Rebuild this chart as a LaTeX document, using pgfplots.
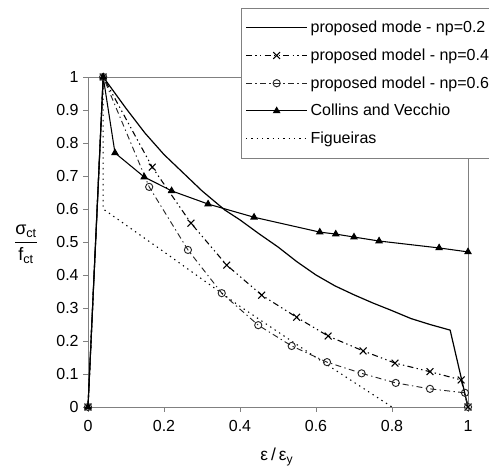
\documentclass[border=0pt]{standalone}
\usepackage{amsmath}
\usepackage{fontspec}
\setmainfont{Liberation Sans}
\usepackage{pgfplots}
\pgfplotsset{compat=1.18}

\begin{document}
\begin{tikzpicture}
\begin{axis}[
  scale only axis,
  width=285pt, height=247.5pt,
  xmin=0, xmax=1, ymin=0, ymax=1,
  xtick={0,0.2,0.4,0.6,0.8,1},
  ytick={0,0.1,0.2,0.3,0.4,0.5,0.6,0.7,0.8,0.9,1},
  xtick pos=bottom, ytick pos=left,
  tick align=outside,
  major tick length=3.5pt,
  axis line style={gray, line width=0.6pt},
  tick style={gray, line width=0.6pt},
  /pgf/number format/assume math mode=true,
  ticklabel style={font=\fontsize{12}{14}\selectfont},
  xticklabel style={yshift=-3pt},
  xlabel={ε\,/\,ε\textsubscript{y}},
  xlabel style={font=\fontsize{13}{15}\selectfont, at={(axis description cs:0.497,-0.152)}, anchor=center},
  ylabel={$\dfrac{\textrm{σ}_{\textrm{ct}}}{\textrm{f}_{\textrm{ct}}}$},
  ylabel style={font=\fontsize{13.5}{15}\selectfont, rotate=-90, at={(axis description cs:-0.163,0.494)}, anchor=center},
  legend style={at={(0.403,1.209)}, anchor=north west, draw=gray, fill=white,
    font=\fontsize{12}{14}\selectfont, row sep=6.6pt, inner xsep=3pt, inner ysep=7.5pt},
  legend cell align=left,
  legend image code/.code={\draw[mark repeat=2,mark phase=2,#1] plot coordinates {(0pt,0pt) (23pt,0pt) (46pt,0pt)};},
  clip=false,
]
% proposed mode - np=0.2
\addplot[black, line width=0.9pt] coordinates {
  (0,0) (0.04,1) (0.1,0.905) (0.15,0.83) (0.2,0.765) (0.25,0.71) (0.3,0.655)
  (0.36,0.597) (0.4,0.567) (0.45,0.525) (0.5,0.485) (0.55,0.44) (0.6,0.40)
  (0.65,0.367) (0.7,0.34) (0.75,0.315) (0.8,0.292) (0.85,0.268) (0.9,0.25)
  (0.953,0.233) (1,0)
};
\addlegendentry{proposed mode - np=0.2}
% proposed model - np=0.4
\addplot[black, line width=0.8pt, dash pattern=on 4.5pt off 2.5pt on 1pt off 2.5pt on 1pt off 2.5pt,
  mark=x, mark size=3.6pt, mark options={solid, line width=0.8pt}] coordinates {
  (0,0) (0.04,1) (0.169,0.727) (0.271,0.557) (0.365,0.43) (0.457,0.339)
  (0.549,0.272) (0.632,0.215) (0.724,0.17) (0.808,0.133) (0.9,0.107)
  (0.982,0.082) (1,0)
};
\addlegendentry{proposed model - np=0.4}
% proposed model - np=0.6
\addplot[black!85, line width=0.7pt, dash pattern=on 4.5pt off 2.5pt on 1pt off 2.5pt,
  mark=o, mark size=2.7pt, mark options={solid, line width=0.7pt}] coordinates {
  (0,0) (0.04,1) (0.161,0.667) (0.263,0.476) (0.352,0.345) (0.448,0.248)
  (0.536,0.185) (0.629,0.136) (0.72,0.102) (0.81,0.073) (0.9,0.055)
  (0.992,0.043) (1,0)
};
\addlegendentry{proposed model - np=0.6}
% Collins and Vecchio
\addplot[black, line width=0.8pt, mark=triangle*, mark size=2.6pt, mark options={solid}] coordinates {
  (0,0) (0.04,1) (0.071,0.77) (0.148,0.697) (0.22,0.655) (0.316,0.615)
  (0.437,0.575) (0.61,0.53) (0.652,0.524) (0.7,0.515) (0.766,0.503)
  (0.924,0.482) (1,0.47)
};
\addlegendentry{Collins and Vecchio}
% Figueiras
\addplot[black, line width=0.8pt, dash pattern=on 1pt off 3pt] coordinates {
  (0,0) (0.04,1) (0.04,0.6) (0.2,0.47) (0.4,0.305) (0.6,0.15) (0.8,0)
};
\addlegendentry{Figueiras}
\draw[gray, line width=0.6pt] (rel axis cs:0,1) -- (rel axis cs:1,1) -- (rel axis cs:1,0);
\end{axis}
\pgfresetboundingbox
\path[use as bounding box] (-66pt,-48.75pt) rectangle (300.75pt,305.25pt);
\end{tikzpicture}
\end{document}
